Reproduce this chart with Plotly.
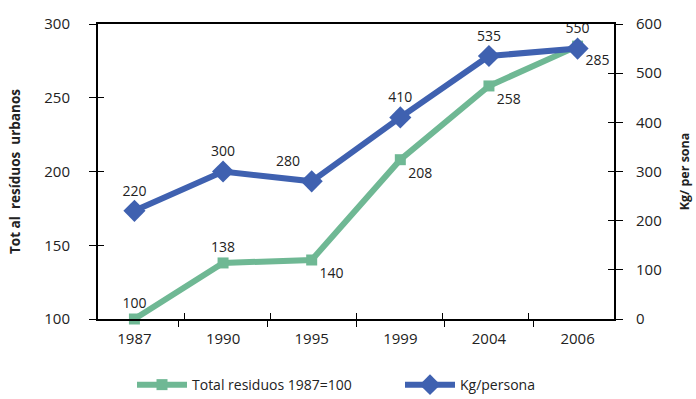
import plotly.graph_objects as go

years = ["1987", "1990", "1995", "1999", "2004", "2006"]
total_residuos = [100, 138, 140, 208, 258, 285]
kg_persona = [220, 300, 280, 410, 535, 550]

green_pos = ["top center", "top center", "bottom right", "bottom right", "bottom right", "bottom right"]
blue_pos = ["top center", "top center", "top left", "top center", "top center", "top center"]

FONT = "Open Sans"
GREEN = "#6FB894"
BLUE = "#3F61B0"

fig = go.Figure()
fig.add_trace(go.Scatter(
    x=years, y=total_residuos, name="Total residuos 1987=100",
    mode="lines+markers+text", text=[str(v) for v in total_residuos],
    textposition=green_pos, textfont=dict(size=14, color="#222", family=FONT),
    line=dict(color=GREEN, width=6), marker=dict(symbol="square", size=11, color=GREEN),
    yaxis="y", cliponaxis=False, legend="legend",
))
fig.add_trace(go.Scatter(
    x=years, y=kg_persona, name="Kg/persona",
    mode="lines+markers+text", text=[str(v) for v in kg_persona],
    textposition=blue_pos, textfont=dict(size=14, color="#222", family=FONT),
    line=dict(color=BLUE, width=6), marker=dict(symbol="diamond", size=17, color=BLUE),
    yaxis="y2", cliponaxis=False, legend="legend2",
))

inner_ticks = dict(ticks="inside", ticklen=6, tickcolor="black", tickwidth=1,
                   showticklabels=False, showgrid=False, zeroline=False, showline=False)

legend_common = dict(orientation="h", xanchor="left", xref="container",
                     y=0.035, yref="container", yanchor="middle",
                     font=dict(size=14), itemwidth=50, bgcolor="rgba(0,0,0,0)")

fig.update_layout(
    width=696, height=399,
    margin=dict(l=98, r=82, t=24, b=80, autoexpand=False),
    paper_bgcolor="white", plot_bgcolor="white",
    font=dict(family=FONT, size=15, color="#222"),
    xaxis=dict(
        type="category", showline=True, linecolor="black", linewidth=2, mirror=True,
        ticks="outside", ticklen=6, tickcolor="black", tickson="boundaries",
        showgrid=False, tickfont=dict(size=15), ticklabelstandoff=5,
    ),
    xaxis2=dict(
        type="category", categoryarray=years, categoryorder="array", range=[-0.5, 5.5],
        overlaying="x", side="bottom", tickson="boundaries", anchor="y", **inner_ticks,
    ),
    yaxis=dict(
        range=[100, 300], dtick=50, showline=True, linecolor="black", linewidth=2,
        mirror=True, ticks="outside", ticklen=7, tickcolor="black", showgrid=False,
        zeroline=False, ticklabelstandoff=16, tickfont=dict(size=15),
        title=dict(text="<b>Tot al  resíduos  urbanos</b>", font=dict(size=13.5), standoff=21),
    ),
    yaxis2=dict(
        range=[0, 600], dtick=100, overlaying="y", side="right", showline=True,
        linecolor="black", linewidth=2, ticks="outside", ticklen=7, tickcolor="black",
        showgrid=False, zeroline=False, ticklabelstandoff=10, tickfont=dict(size=15),
        title=dict(text="<b>Kg/ per sona</b>", font=dict(size=12.5), standoff=20),
    ),
    yaxis3=dict(range=[100, 300], dtick=50, overlaying="y", side="left", anchor="x", **inner_ticks),
    yaxis4=dict(range=[0, 600], dtick=100, overlaying="y", side="right", anchor="x", **inner_ticks),
    legend=dict(x=132 / 696, **legend_common),
    legend2=dict(x=400 / 696, **legend_common),
    showlegend=True,
)

# invisible helper traces so the inner-tick axes are drawn
fig.add_trace(go.Scatter(x=years, y=total_residuos, xaxis="x2", yaxis="y3", mode="none",
                         showlegend=False, hoverinfo="skip"))
fig.add_trace(go.Scatter(x=years, y=kg_persona, xaxis="x2", yaxis="y4", mode="none",
                         showlegend=False, hoverinfo="skip"))

fig.write_html(
    "out.html",
    config={"displayModeBar": False},
    post_script="document.body.style.margin='0';document.body.style.overflow='hidden';",
)
